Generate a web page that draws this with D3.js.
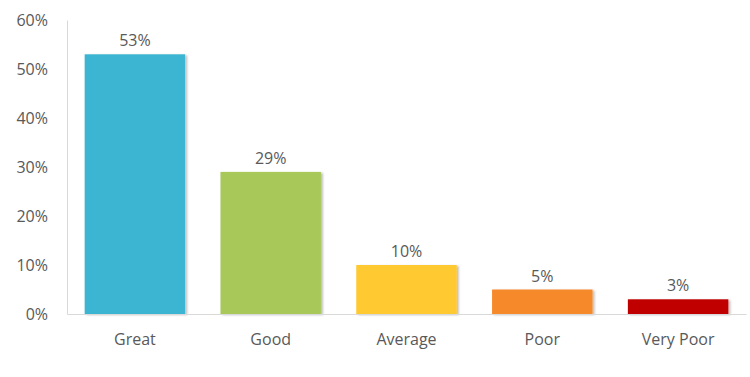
<!DOCTYPE html>
<html lang="en">
<head>
    <meta charset="UTF-8">
    <title>Ratings</title>
    <script src="https://cdn.jsdelivr.net/npm/d3@7"></script>
    <style>
        body { margin: 0; background: #fff; }
        text { font-family: "Open Sans", "Noto Sans", sans-serif; fill: #595959; }
    </style>
</head>
<body>
    <script>
        // Width and height
        var w = 750;
        var h = 377;
        var margin = { top: 20, right: 4, bottom: 63, left: 67 };

        var categories = ["Great", "Good", "Average", "Poor", "Very Poor"];
        var values = [53, 29, 10, 5, 3];
        var colors = ["#3bb5d1", "#a8c95a", "#ffc933", "#f6892b", "#c00000"];
        var yTicks = [0, 10, 20, 30, 40, 50, 60];

        var xScale = d3.scaleBand()
            .domain(categories)
            .range([margin.left, w - margin.right])
            .paddingInner(0.26)
            .paddingOuter(0.13);

        var yScale = d3.scaleLinear()
            .domain([0, 60])
            .range([h - margin.bottom, margin.top]);

        var svg = d3.select("body")
            .append("svg")
            .attr("width", w)
            .attr("height", h);

        // soft shadow on the bars
        var filter = svg.append("defs").append("filter")
            .attr("id", "shadow")
            .attr("x", "-10%").attr("y", "-10%")
            .attr("width", "130%").attr("height", "130%");
        filter.append("feDropShadow")
            .attr("dx", 2).attr("dy", 1)
            .attr("stdDeviation", 1.2)
            .attr("flood-color", "#000")
            .attr("flood-opacity", 0.25);

        // y axis
        var yAxis = d3.axisLeft(yScale)
            .tickValues(yTicks)
            .tickSize(0)
            .tickPadding(19)
            .tickFormat(function(d) { return d + "%"; });

        var gy = svg.append("g")
            .attr("transform", "translate(" + margin.left + ",0)")
            .call(yAxis);
        gy.select(".domain").attr("stroke", "#d9d9d9");
        gy.selectAll("text")
            .attr("font-size", "16px")
            .style("font-family", "'Open Sans', 'Noto Sans', sans-serif")
            .attr("fill", "#595959");

        // bars
        svg.selectAll("rect.bar")
            .data(values)
            .enter()
            .append("rect")
            .attr("class", "bar")
            .attr("x", function(d, i) { return xScale(categories[i]); })
            .attr("y", function(d) { return yScale(d); })
            .attr("width", xScale.bandwidth())
            .attr("height", function(d) { return yScale(0) - yScale(d); })
            .attr("fill", function(d, i) { return colors[i]; })
            .attr("filter", "url(#shadow)");

        // x axis
        var xAxis = d3.axisBottom(xScale)
            .tickSize(0)
            .tickPadding(20);

        var gx = svg.append("g")
            .attr("transform", "translate(0," + yScale(0) + ")")
            .call(xAxis);
        gx.select(".domain").attr("stroke", "#d9d9d9");
        gx.selectAll("text")
            .attr("font-size", "16px")
            .style("font-family", "'Open Sans', 'Noto Sans', sans-serif")
            .attr("fill", "#595959");

        // value labels
        svg.selectAll("text.val")
            .data(values)
            .enter()
            .append("text")
            .attr("class", "val")
            .attr("x", function(d, i) { return xScale(categories[i]) + xScale.bandwidth() / 2; })
            .attr("y", function(d) { return yScale(d) - 8; })
            .attr("text-anchor", "middle")
            .attr("font-size", "16px")
            .text(function(d) { return d + "%"; });
    </script>
</body>
</html>
